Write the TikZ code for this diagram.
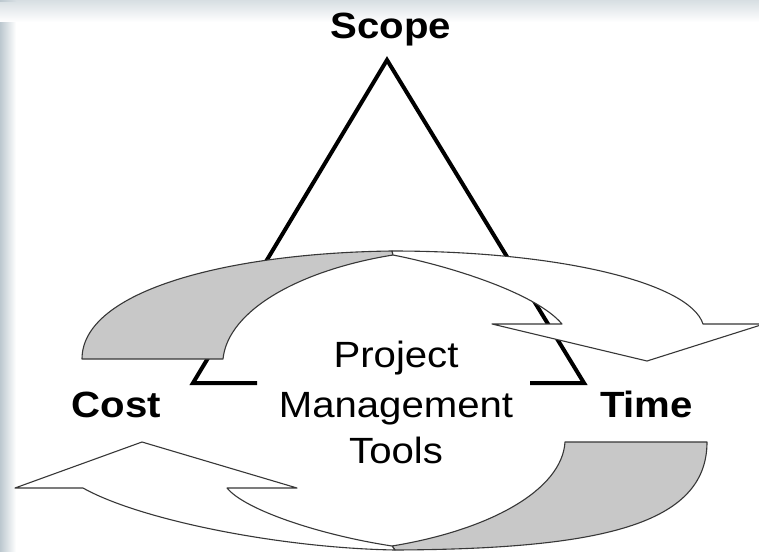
\documentclass[tikz,border=0pt]{standalone}
\usepackage{fontspec}
\setmainfont{Liberation Sans}[FakeStretch=1.1]
\definecolor{edge}{RGB}{55,55,55}
\definecolor{backgray}{RGB}{200,200,200}
\definecolor{framecol}{RGB}{188,200,207}
\begin{document}
\begin{tikzpicture}[x=1pt,y=-1pt,
  tri/.style={line width=4pt, line join=miter},
  arrowface/.style={draw=edge, line width=1.1pt, fill=white, line join=round},
  arrowback/.style={arrowface, fill=backgray},
  corner/.style={font=\fontsize{36.5}{44}\selectfont\bfseries, anchor=base, inner sep=0pt},
  tool/.style={font=\fontsize{36.5}{44}\selectfont, anchor=base, inner sep=0pt}]
\useasboundingbox (0,0) rectangle (759,551);
\fill[white] (0,0) rectangle (759,551);
\shade[left color=framecol, right color=white] (0,0) rectangle (16,551);
\shade[top color=framecol!60!white, bottom color=white] (0,0) rectangle (759,22);
\shade[left color=framecol, right color=framecol!60!white] (0,0) rectangle (16,2);

% triangle
\coordinate (apex) at (387,60);
\coordinate (bl) at (193,383);
\coordinate (br) at (584,383);
\draw[tri] (257,383) -- (bl) -- (apex) -- (br) -- (530,383);

% top arrow: grey back part
\path[arrowback] (82,359) -- (223,359) .. controls (228,310) and (300,270) .. (393,255)
  -- (392,251) .. controls (230,253) and (82,290) .. (82,359) -- cycle;
% top arrow: white front part with head
\path[arrowface] (392,251) .. controls (560,251) and (690,283) .. (703,324)
  -- (764,324) -- (647,361) -- (492,324) -- (562,324)
  .. controls (535,292) and (445,265) .. (393,255) -- cycle;

% bottom arrow: grey back part
\path[arrowback] (707,442) -- (565,442) .. controls (562,490) and (490,530) .. (392,546)
  -- (395,550) .. controls (600,549) and (707,525) .. (707,442) -- cycle;
% bottom arrow: white front part with head
\path[arrowface] (395,550) .. controls (280,548) and (140,520) .. (83,488)
  -- (15,488) -- (142,442) -- (297,488) -- (227,488)
  .. controls (245,510) and (320,535) .. (392,546) -- cycle;

% labels
\node[corner] (scope) at (391,38) {Scope};
\node[corner] (cost) at (116.5,417) {Cost};
\node[corner] (time) at (646.5,417) {Time};
\node[tool] (project) at (396,367) {Project};
\node[tool] (management) at (396,417) {Management};
\node[tool] (tools) at (396,463) {Tools};
\end{tikzpicture}
\end{document}
